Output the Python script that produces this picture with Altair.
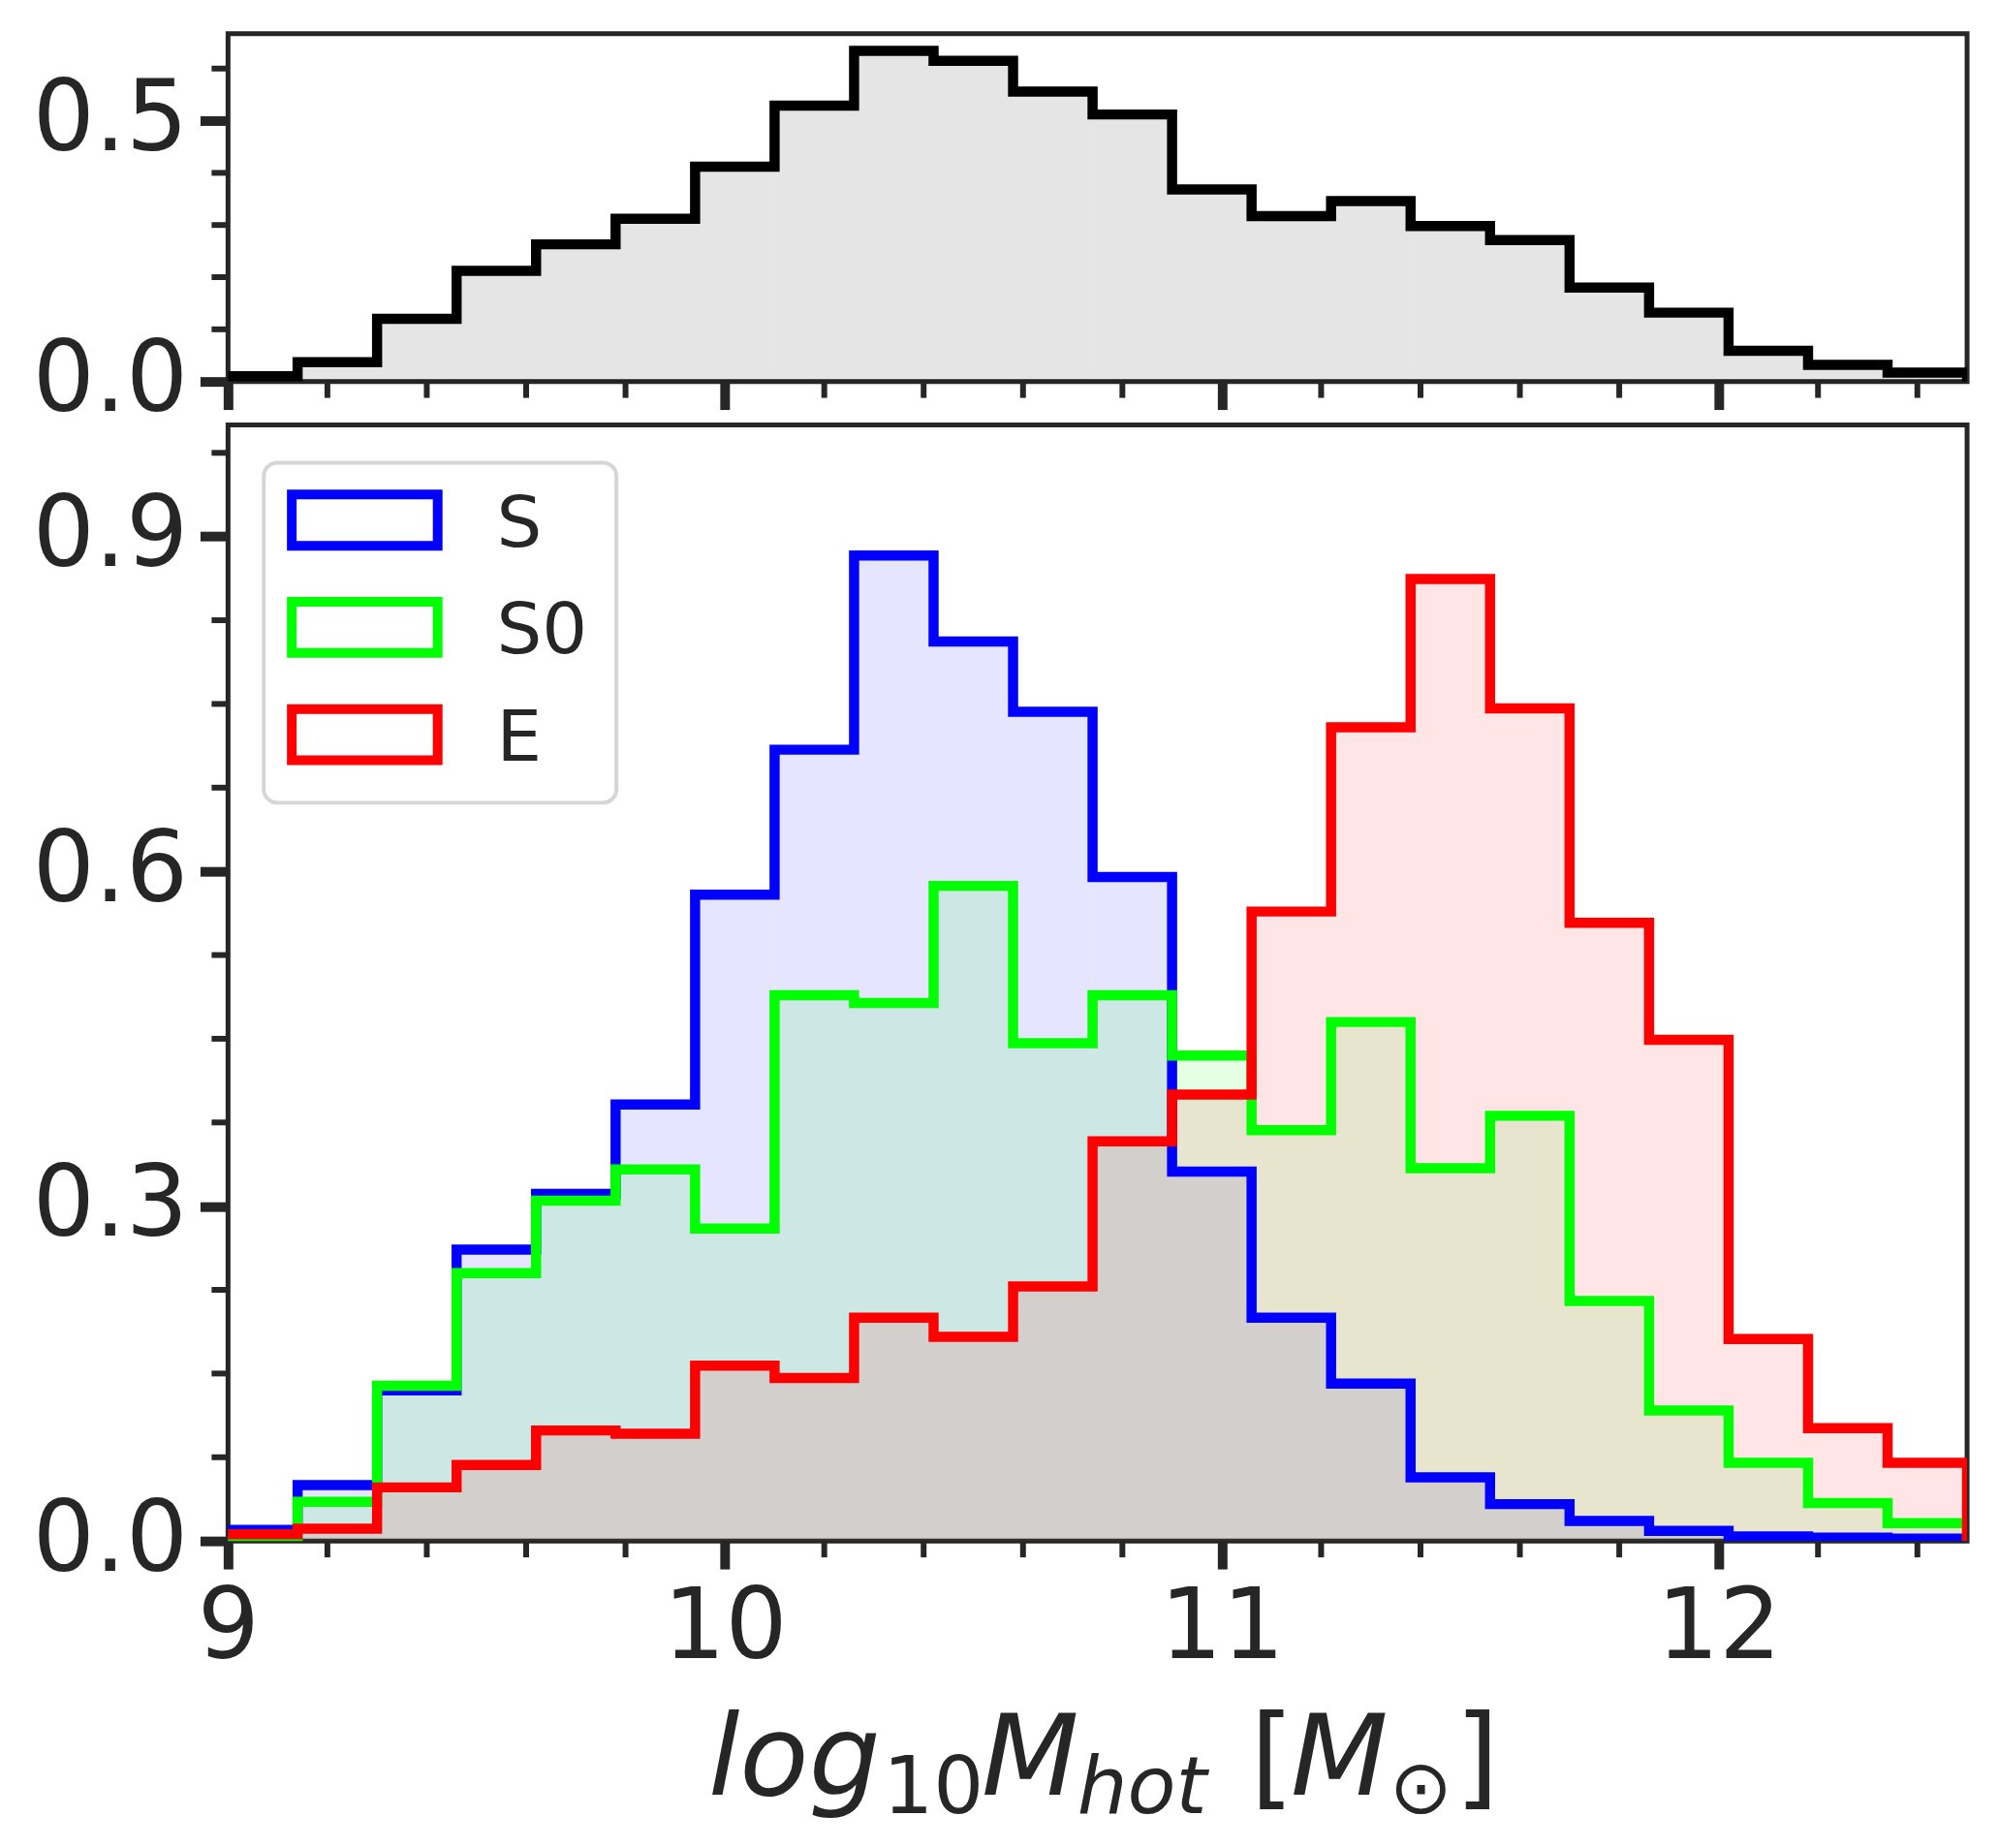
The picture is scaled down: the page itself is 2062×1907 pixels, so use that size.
import altair as alt
import pandas as pd

# ---------------- data ----------------
edges = [8.98, 9.14, 9.30, 9.46, 9.62, 9.78, 9.94, 10.10, 10.26, 10.42, 10.58,
         10.74, 10.90, 11.06, 11.22, 11.38, 11.54, 11.70, 11.86, 12.02, 12.18,
         12.34, 12.50]

all_vals = [0.010, 0.037, 0.120, 0.212, 0.263, 0.312, 0.412, 0.529, 0.634, 0.615,
            0.556, 0.512, 0.368, 0.317, 0.346, 0.298, 0.271, 0.180, 0.132, 0.059,
            0.032, 0.017]

s_vals = [0.010, 0.050, 0.135, 0.261, 0.311, 0.391, 0.579, 0.709, 0.883, 0.806,
          0.743, 0.595, 0.331, 0.200, 0.141, 0.057, 0.033, 0.018, 0.009, 0.004,
          0.003, 0.002]

s0_vals = [0.000, 0.035, 0.139, 0.240, 0.305, 0.333, 0.280, 0.489, 0.482, 0.587,
           0.446, 0.489, 0.435, 0.368, 0.465, 0.334, 0.381, 0.215, 0.117, 0.070,
           0.034, 0.016]

e_vals = [0.006, 0.011, 0.048, 0.068, 0.099, 0.096, 0.157, 0.146, 0.200, 0.183,
          0.228, 0.358, 0.400, 0.564, 0.729, 0.862, 0.746, 0.554, 0.449, 0.181,
          0.101, 0.070]

labels = ["S", "S0", "E"]
colors = ["#0000ff", "#00ff00", "#ff0000"]

top_major = [0.0, 0.5]
top_minor = [0.1, 0.2, 0.3, 0.4, 0.6]
bot_major = [0.0, 0.3, 0.6, 0.9]
bot_minor = [0.075, 0.15, 0.225, 0.375, 0.45, 0.525, 0.675, 0.75, 0.825, 0.975]
x_major = [9, 10, 11, 12]
x_minor = [9.2, 9.4, 9.6, 9.8, 10.2, 10.4, 10.6, 10.8, 11.2, 11.4, 11.6, 11.8,
           12.2, 12.4]

INK = "#262626"
FONT = "DejaVu Sans"
W = 1800
H_TOP = 360
H_BOT = 1155
X_DOMAIN = [9, 12.5]
PAD_L, PAD_T, PAD_R, PAD_B = 225, 21, 21, 309
LW = 10.5


def step_frame(vals):
    xs = [edges[0]] + list(edges[:-1]) + [edges[-1], edges[-1]]
    ys = [0.0] + list(vals) + [vals[-1], 0.0]
    return pd.DataFrame({"x": xs, "y": ys, "i": list(range(len(xs)))})


xscale = alt.Scale(domain=X_DOMAIN, nice=False, zero=False)


def x_axis(show_labels):
    return alt.Axis(values=x_major, labels=show_labels, tickSize=29,
                    tickWidth=10, tickColor=INK, domain=False, grid=False,
                    labelFont=FONT, labelFontSize=101, labelColor=INK,
                    labelPadding=12, labelFlush=False, title=None, format="d")


def y_axis(vals):
    return alt.Axis(values=vals, format=".1f", tickSize=29, tickWidth=10,
                    tickColor=INK, domain=False, grid=False, labelFont=FONT,
                    labelFontSize=101, labelColor=INK, labelPadding=13,
                    labelFlush=False, title=None)


def hist_layers(vals, color, yscale, xax, yax, fill_opacity=0.1):
    df = step_frame(vals)
    base = alt.Chart(df)
    enc = dict(x=alt.X("x:Q", scale=xscale, axis=xax),
               y=alt.Y("y:Q", scale=yscale, axis=yax),
               order="i:Q")
    area = base.mark_area(interpolate="step-after", color=color,
                          opacity=fill_opacity, clip=True).encode(**enc)
    line = base.mark_line(interpolate="step-after", color=color,
                          strokeWidth=LW, clip=True, strokeJoin="miter",
                          strokeCap="butt").encode(**enc)
    return area, line


def minor_x(height, xax):
    return alt.Chart(pd.DataFrame({"x": x_minor})).mark_rule(
        color=INK, strokeWidth=6).encode(
        x=alt.X("x:Q", scale=xscale, axis=xax),
        y=alt.value(height), y2=alt.value(height + 17))


def minor_y(vals, yscale, yax):
    return alt.Chart(pd.DataFrame({"y": vals})).mark_rule(
        color=INK, strokeWidth=6).encode(
        y=alt.Y("y:Q", scale=yscale, axis=yax),
        x=alt.value(-17), x2=alt.value(0))


one = pd.DataFrame({"k": [0]})


def anchor(ypos):
    # white hairline that fixes the outer bounds of the figure
    return alt.Chart(one).mark_rule(color="white", strokeWidth=1).encode(
        x=alt.value(-PAD_L), x2=alt.value(W + PAD_R), y=alt.value(ypos))


# ---------------- top panel ----------------
yscale_top = alt.Scale(domain=[0, 0.667], nice=False, zero=True)
xax_top = x_axis(False)
yax_top = y_axis(top_major)
t_area, t_line = hist_layers(all_vals, "#000000", yscale_top, xax_top, yax_top)

top = alt.layer(
    t_area, t_line,
    minor_x(H_TOP, xax_top), minor_y(top_minor, yscale_top, yax_top),
    anchor(-PAD_T),
).properties(width=W, height=H_TOP)

# ---------------- bottom panel ----------------
yscale_bot = alt.Scale(domain=[0, 1.0], nice=False, zero=True)
xax_bot = x_axis(True)
yax_bot = y_axis(bot_major)
series = [s_vals, s0_vals, e_vals]
areas, lines = [], []
for vals, col in zip(series, colors):
    a, l = hist_layers(vals, col, yscale_bot, xax_bot, yax_bot)
    areas.append(a)
    lines.append(l)

# legend (manual, matplotlib-like)
legend_layers = [
    alt.Chart(one).mark_rect(fill="white", stroke="#d6d6d6", strokeWidth=4,
                             cornerRadius=14).encode(
        x=alt.value(37), x2=alt.value(402), y=alt.value(39), y2=alt.value(391))
]
row_centers = [98.5, 209.5, 320.5]
for lab, col, yc in zip(labels, colors, row_centers):
    legend_layers.append(
        alt.Chart(one).mark_rect(fill="white", stroke=col, strokeWidth=10,
                                 strokeJoin="miter").encode(
            x=alt.value(66), x2=alt.value(217),
            y=alt.value(yc - 26.5), y2=alt.value(yc + 26.5)))
    legend_layers.append(
        alt.Chart(one).mark_text(text=lab, font=FONT, fontSize=74, color=INK,
                                 align="left", baseline="alphabetic").encode(
            x=alt.value(278), y=alt.value(yc + 27)))

# x label: log_{10} M_{hot} [M_sun]
label_pieces = [
    ("log", 497, 1418, 117, "italic"),
    ("10", 678, 1437, 82, "normal"),
    ("M", 780, 1418, 117, "italic"),
    ("hot", 879, 1437, 82, "italic"),
    ("[", 1058, 1418, 117, "normal"),
    ("M", 1100, 1418, 117, "italic"),
    ("\u2299", 1202, 1437, 78, "normal"),
    ("]", 1270, 1418, 117, "normal"),
]
label_layers = []
for txt, px, py, fs, st in label_pieces:
    label_layers.append(
        alt.Chart(one).mark_text(text=txt, font=FONT, fontSize=fs,
                                 fontStyle=st, color=INK, align="left",
                                 baseline="alphabetic").encode(
            x=alt.value(px), y=alt.value(py)))

bottom = alt.layer(
    *areas, *lines,
    minor_x(H_BOT, xax_bot), minor_y(bot_minor, yscale_bot, yax_bot),
    *legend_layers, *label_layers, anchor(H_BOT + PAD_B),
).properties(width=W, height=H_BOT)

chart = alt.vconcat(top, bottom, spacing=45, bounds="flush").properties(
    padding=0, background="white",
).configure_view(stroke=INK, strokeWidth=5)

chart.save("out.html", embed_options={"renderer": "svg", "actions": False})
